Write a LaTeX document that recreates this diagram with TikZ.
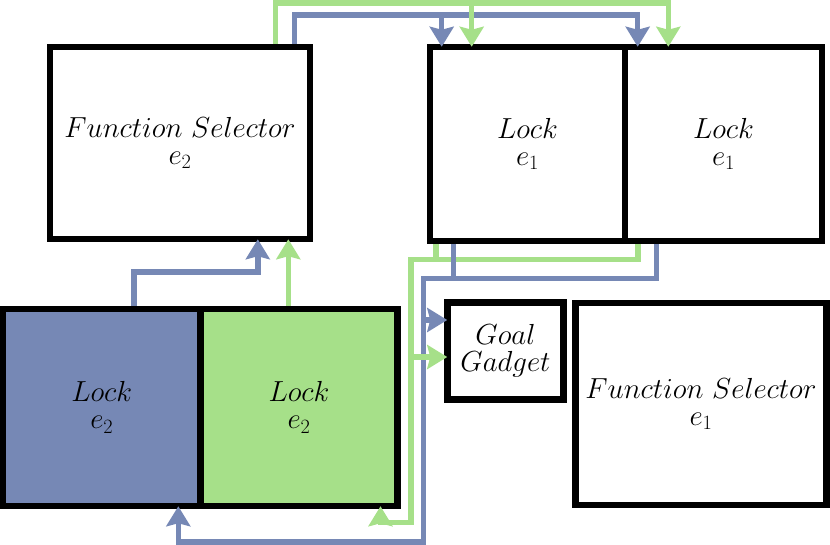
\RequirePackage{fix-cm}
\documentclass[tikz,border=0pt]{standalone}
\usetikzlibrary{arrows.meta}
\definecolor{cblue}{RGB}{118,136,181}
\definecolor{cgreen}{RGB}{166,224,137}
\tikzset{
  box/.style={draw=black, line width=6.5pt, inner sep=0pt, align=center,
    font=\fontsize{29}{27}\selectfont},
  bline/.style={draw=cblue, line width=5.5pt},
  gline/.style={draw=cgreen, line width=5.5pt},
  tip/.style={-{Stealth[length=20pt,width=24pt,inset=3pt]}, shorten >=-3pt},
}
\begin{document}
\begin{tikzpicture}[x=1pt,y=-1pt]
\useasboundingbox (0,0) rectangle (830,545);
% boxes
\node[box, minimum width=260pt, minimum height=192pt] (fs2) at (180,143) {$Function\ Selector$\\$e_2$};
\node[box, minimum width=195pt, minimum height=194pt] (lockA) at (527.5,144) {$Lock$\\$e_1$};
\node[box, minimum width=197pt, minimum height=194pt] (lockB) at (723.5,144) {$Lock$\\$e_1$};
\node[box, minimum width=116pt, minimum height=97pt] (goal) at (505.5,351) {$Goal$\\$Gadget$};
\node[box, minimum width=251pt, minimum height=201.5pt] (fs1) at (701,404) {$Function\ Selector$\\$e_1$};
\node[box, fill=cblue, minimum width=197.5pt, minimum height=197pt] (lockBlue) at (101.75,407.5) {$Lock$\\$e_2$};
\node[box, fill=cgreen, minimum width=197pt, minimum height=197pt] (lockGreen) at (299,407.5) {$Lock$\\$e_2$};
% routing points
\coordinate (b1) at (294.5,15);
\coordinate (b2) at (637.7,15);
\coordinate (b3) at (441.7,15);
\coordinate (g1) at (275.5,3);
\coordinate (g2) at (668.3,3);
\coordinate (g3) at (471.7,3);
\coordinate (b4) at (453.5,278.5);
\coordinate (b5) at (656.7,278.5);
\coordinate (b6) at (423.5,278.5);
\coordinate (b7) at (423.5,542);
\coordinate (b8) at (178.3,542);
\coordinate (bg) at (423.5,320);
\coordinate (g4) at (436,259.5);
\coordinate (g5) at (638,259.5);
\coordinate (g6) at (411,259.5);
\coordinate (g7) at (411,522.5);
\coordinate (g8) at (380.5,522.5);
\coordinate (gg) at (411,357);
\coordinate (b9) at (133.8,272);
\coordinate (b10) at (257.8,272);
\coordinate (g9) at (288.3,272);
% top connectors
\draw[bline, tip] (b1 |- fs2.north) -- (b1) -- (b2) -- (b2 |- lockB.north);
\draw[bline, tip] (b3) -- (b3 |- lockA.north);
\draw[gline, tip] (g1 |- fs2.north) -- (g1) -- (g2) -- (g2 |- lockB.north);
\draw[gline, tip] (g3) -- (g3 |- lockA.north);
% middle connectors
\draw[gline, tip] (g5 |- lockB.south) -- (g5) -- (g6) -- (g7) -- (g8) -- (g8 |- lockGreen.south);
\draw[gline] (g4 |- lockA.south) -- (g4);
\draw[bline, tip] (b5 |- lockB.south) -- (b5) -- (b6) -- (b7) -- (b8) -- (b8 |- lockBlue.south);
\draw[bline] (b4 |- lockA.south) -- (b4);
\draw[bline, tip] (bg) -- (bg -| goal.west);
\draw[gline, tip] (gg) -- (gg -| goal.west);
% bottom-left connectors
\draw[bline, tip] (b9 |- lockBlue.north) -- (b9) -- (b10) -- (b10 |- fs2.south);
\draw[gline, tip] (g9 |- lockGreen.north) -- (g9 |- fs2.south);
\end{tikzpicture}
\end{document}
